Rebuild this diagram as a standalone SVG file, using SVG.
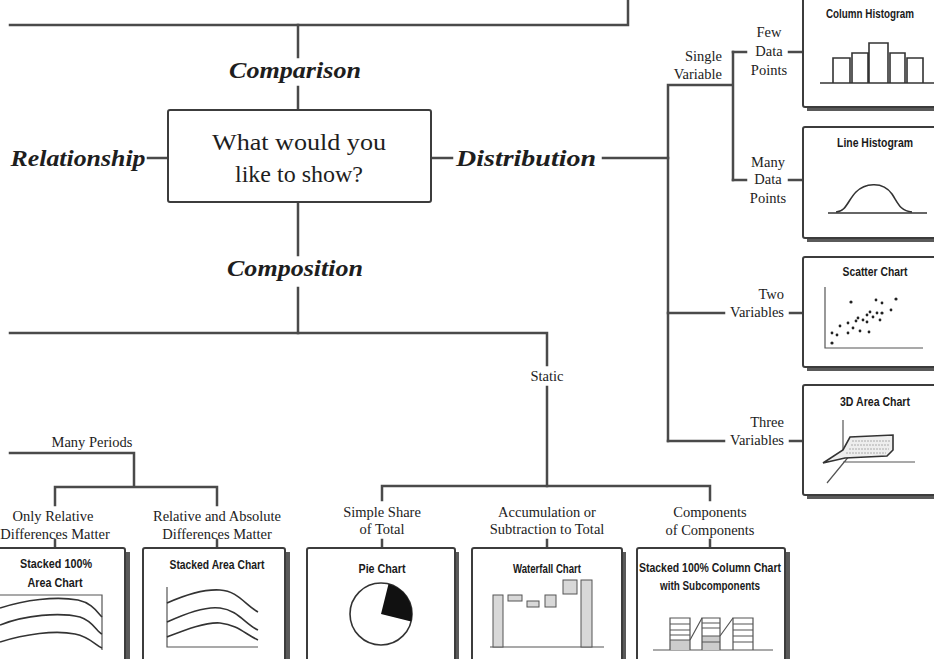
<svg xmlns="http://www.w3.org/2000/svg" width="934" height="659" viewBox="0 0 934 659">
<defs>
<style>
.ln{fill:none;stroke:#4a4a4a;stroke-width:2.5;stroke-linecap:square}
.cat{font-family:"Liberation Serif","DejaVu Serif",serif;font-weight:bold;font-style:italic;font-size:23px;fill:#1e1e1e;text-anchor:middle}
.q{font-family:"Liberation Serif","DejaVu Serif",serif;font-size:24px;fill:#1e1e1e;text-anchor:middle}
.lb{font-family:"Liberation Serif","DejaVu Serif",serif;font-size:14.5px;fill:#222;text-anchor:middle}
.lr{font-family:"Liberation Serif","DejaVu Serif",serif;font-size:14.5px;fill:#222;text-anchor:end}
.tt{font-family:"Liberation Sans","DejaVu Sans",sans-serif;font-weight:bold;font-size:12.5px;fill:#1a1a1a;text-anchor:middle}
.box{fill:#fff;stroke:#3c3c3c;stroke-width:2}
.sh{fill:#5a5a5a}
.ch{fill:none;stroke:#333;stroke-width:1.6}
.thin{fill:none;stroke:#555;stroke-width:1.2}
.bar{fill:#d8d8d8;stroke:#555;stroke-width:1}
</style>
</defs>
<rect width="934" height="659" fill="#fff"/>

<g id="connectors">
<path class="ln" d="M10,25 H628 V0"/>
<path class="ln" d="M298,25 V57 M298,87 V110"/>
<path class="ln" d="M148,158 H168"/>
<path class="ln" d="M431,158 H452 M603,158 H668"/>
<path class="ln" d="M298,202 V255 M298,288 V333"/>
<path class="ln" d="M10,333 H547 V365 M547,387 V486"/>
<path class="ln" d="M382,500 V486 H710 V500"/>
<path class="ln" d="M382,540 V548 M547,540 V548 M710,540 V548"/>
<path class="ln" d="M10,453 H134 V487 M55,505 V487 H217 V505"/>
<path class="ln" d="M55,540 V548 M217,540 V548"/>
<path class="ln" d="M668,85 V441 M668,85 H733 M733,52 V180"/>
<path class="ln" d="M733,52 H746 M789,52 H803 M733,180 H746 M789,180 H803"/>
<path class="ln" d="M668,313 H724 M790,313 H803 M668,441 H724 M790,441 H803"/>
</g>

<g id="center">
<rect class="box" x="168" y="110" width="263" height="92" rx="2"/>
<text class="q" x="299" y="150" textLength="174" lengthAdjust="spacingAndGlyphs">What would you</text>
<text class="q" x="299" y="182">like to show?</text>
</g>

<g id="labels">
<text class="cat" x="295" y="78" textLength="132" lengthAdjust="spacingAndGlyphs">Comparison</text>
<text class="cat" x="78" y="166" textLength="135" lengthAdjust="spacingAndGlyphs">Relationship</text>
<text class="cat" x="526" y="166" textLength="140" lengthAdjust="spacingAndGlyphs">Distribution</text>
<text class="cat" x="295" y="276" textLength="136" lengthAdjust="spacingAndGlyphs">Composition</text>
<text class="lb" x="547" y="381">Static</text>
<text class="lb" x="92" y="447">Many Periods</text>
<text class="lb" x="53" y="521">Only Relative</text>
<text class="lb" x="55" y="539">Differences Matter</text>
<text class="lb" x="217" y="521">Relative and Absolute</text>
<text class="lb" x="217" y="539">Differences Matter</text>
<text class="lb" x="382" y="517">Simple Share</text>
<text class="lb" x="382" y="534">of Total</text>
<text class="lb" x="547" y="517">Accumulation or</text>
<text class="lb" x="547" y="534">Subtraction to Total</text>
<text class="lb" x="710" y="517">Components</text>
<text class="lb" x="710" y="535">of Components</text>
<text class="lr" x="722" y="61">Single</text>
<text class="lr" x="722" y="79">Variable</text>
<text class="lb" x="769" y="37">Few</text>
<text class="lb" x="769" y="56">Data</text>
<text class="lb" x="769" y="75">Points</text>
<text class="lb" x="768" y="167">Many</text>
<text class="lb" x="768" y="184">Data</text>
<text class="lb" x="768" y="203">Points</text>
<text class="lr" x="784" y="299">Two</text>
<text class="lr" x="784" y="317">Variables</text>
<text class="lr" x="784" y="427">Three</text>
<text class="lr" x="784" y="445">Variables</text>
</g>

<g id="column-histogram">
<rect class="sh" x="807" y="-16" width="140" height="127"/>
<rect class="box" x="803" y="-20" width="140" height="127" rx="2"/>
<text class="tt" x="870" y="18" textLength="88" lengthAdjust="spacingAndGlyphs">Column Histogram</text>
<path class="ch" d="M820,83 H934"/>
<path class="ch" d="M833,83 V58 H850 V83 M852,83 V53 H868 V83 M869,83 V43 H888 V83 M890,83 V53 H905 V83 M907,83 V58 H923 V83"/>
</g>

<g id="line-histogram">
<rect class="sh" x="807" y="131" width="140" height="111"/>
<rect class="box" x="803" y="127" width="140" height="111" rx="2"/>
<text class="tt" x="875" y="147" textLength="76" lengthAdjust="spacingAndGlyphs">Line Histogram</text>
<path class="ch" d="M828,213 H927"/>
<path class="ch" d="M836,212 C846,212 848,200 856,192 C864,184 882,180 892,194 C898,203 900,211 912,212"/>
</g>

<g id="scatter-chart">
<rect class="sh" x="807" y="261" width="140" height="110"/>
<rect class="box" x="803" y="257" width="140" height="110" rx="2"/>
<text class="tt" x="875" y="276" textLength="65" lengthAdjust="spacingAndGlyphs">Scatter Chart</text>
<path class="thin" d="M825,287 V348 H923"/>
<g fill="#222">
<circle cx="832" cy="343" r="1.6"/><circle cx="832" cy="333" r="1.4"/><circle cx="837" cy="335" r="1.4"/>
<circle cx="840" cy="326" r="1.4"/><circle cx="848" cy="323" r="1.4"/><circle cx="848" cy="333" r="1.4"/>
<circle cx="853" cy="328" r="1.4"/><circle cx="860" cy="331" r="1.4"/><circle cx="869" cy="332" r="1.4"/>
<circle cx="858" cy="318" r="1.4"/><circle cx="863" cy="320" r="1.4"/><circle cx="867" cy="315" r="1.4"/>
<circle cx="870" cy="312" r="1.4"/><circle cx="873" cy="317" r="1.4"/><circle cx="877" cy="313" r="1.4"/>
<circle cx="880" cy="320" r="1.4"/><circle cx="882" cy="313" r="1.6"/><circle cx="891" cy="310" r="1.4"/>
<circle cx="882" cy="303" r="1.4"/><circle cx="876" cy="300" r="1.4"/><circle cx="851" cy="302" r="1.6"/>
<circle cx="896" cy="299" r="1.6"/><circle cx="867" cy="322" r="1.4"/><circle cx="856" cy="321" r="1.4"/>
</g>
</g>

<g id="area-3d-chart">
<rect class="sh" x="807" y="389" width="140" height="110"/>
<rect class="box" x="803" y="385" width="140" height="110" rx="2"/>
<text class="tt" x="875" y="406" textLength="70" lengthAdjust="spacingAndGlyphs">3D Area Chart</text>
<path class="thin" d="M843,420 V457 M843,462 H915 M827,483 L850,455"/>
<path d="M823,463 L843,450 L850,437 L893,435 L893,450 L887,456 L845,458 Z" fill="#eee" stroke="#333" stroke-width="1.6"/>
<path d="M852,441 H890 M851,445 H890 M849,449 H889 M846,453 H886" stroke="#999" stroke-width="0.8" stroke-dasharray="2,1"/>
</g>

<g id="stacked-100-area-chart">
<rect class="sh" x="-16" y="552" width="146" height="120"/>
<rect class="box" x="-20" y="548" width="145" height="120" rx="2"/>
<text class="tt" x="56" y="568" textLength="72" lengthAdjust="spacingAndGlyphs">Stacked 100%</text>
<text class="tt" x="55" y="587" textLength="55" lengthAdjust="spacingAndGlyphs">Area Chart</text>
<path class="thin" d="M0,595 H102 V650"/>
<path class="ch" d="M0,608 C25,600 55,596 78,600 C92,603 97,612 102,617"/>
<path class="ch" d="M0,625 C25,615 60,612 80,617 C93,621 97,632 102,634"/>
<path class="ch" d="M0,642 C25,634 55,630 75,634 C90,637 95,645 102,648"/>
</g>

<g id="stacked-area-chart">
<rect class="sh" x="147" y="552" width="143" height="120"/>
<rect class="box" x="143" y="548" width="142" height="120" rx="2"/>
<text class="tt" x="217" y="569" textLength="95" lengthAdjust="spacingAndGlyphs">Stacked Area Chart</text>
<path class="thin" d="M167,587 V647 H258"/>
<path class="ch" d="M167,603 C185,595 205,589 220,590 C238,591 245,605 258,612"/>
<path class="ch" d="M167,622 C185,614 205,606 220,608 C238,610 245,624 258,630"/>
<path class="ch" d="M167,637 C185,630 205,622 220,623 C238,625 245,634 258,640"/>
</g>

<g id="pie-chart">
<rect class="sh" x="311" y="552" width="148" height="120"/>
<rect class="box" x="307" y="548" width="148" height="120" rx="2"/>
<text class="tt" x="382" y="573" textLength="47" lengthAdjust="spacingAndGlyphs">Pie Chart</text>
<circle cx="381" cy="614" r="31" fill="#fff" stroke="#333" stroke-width="1.6"/>
<path d="M381,614 L388.5,583.9 A31,31 0 0 1 411.1,621.5 Z" fill="#111"/>
</g>

<g id="waterfall-chart">
<rect class="sh" x="476" y="552" width="150" height="120"/>
<rect class="box" x="472" y="548" width="150" height="120" rx="2"/>
<text class="tt" x="547" y="573" textLength="68" lengthAdjust="spacingAndGlyphs">Waterfall Chart</text>
<path class="thin" d="M490,647 H604"/>
<rect class="bar" x="493" y="595" width="10" height="52"/>
<rect class="bar" x="508" y="595" width="14" height="6"/>
<rect class="bar" x="527" y="601" width="12" height="6"/>
<rect class="bar" x="545" y="595" width="11" height="12"/>
<rect class="bar" x="563" y="580" width="14" height="14"/>
<rect class="bar" x="581" y="580" width="11" height="67"/>
</g>

<g id="stacked-100-column-chart">
<rect class="sh" x="641" y="552" width="149" height="120"/>
<rect class="box" x="637" y="548" width="148" height="120" rx="2"/>
<text class="tt" x="710" y="572" textLength="142" lengthAdjust="spacingAndGlyphs">Stacked 100% Column Chart</text>
<text class="tt" x="710" y="590" textLength="100" lengthAdjust="spacingAndGlyphs">with Subcomponents</text>
<path class="thin" d="M653,650 H773"/>
<rect x="670" y="640" width="20" height="10" fill="#ccc"/>
<rect x="702" y="636" width="18" height="14" fill="#ccc"/>
<path class="thin" d="M670,650 V618 H690 V650 M670,624 H690 M670,630 H690 M670,635 H690 M670,640 H690"/>
<path class="thin" d="M702,650 V618 H720 V650 M702,623 H720 M702,628 H720 M702,636 H720 M702,642 H720"/>
<path class="thin" d="M733,650 V618 H753 V650 M733,624 H753 M733,630 H753 M733,636 H753 M733,642 H753"/>
<path class="thin" d="M690,640 L702,618 M720,636 L733,618"/>
</g>
</svg>
